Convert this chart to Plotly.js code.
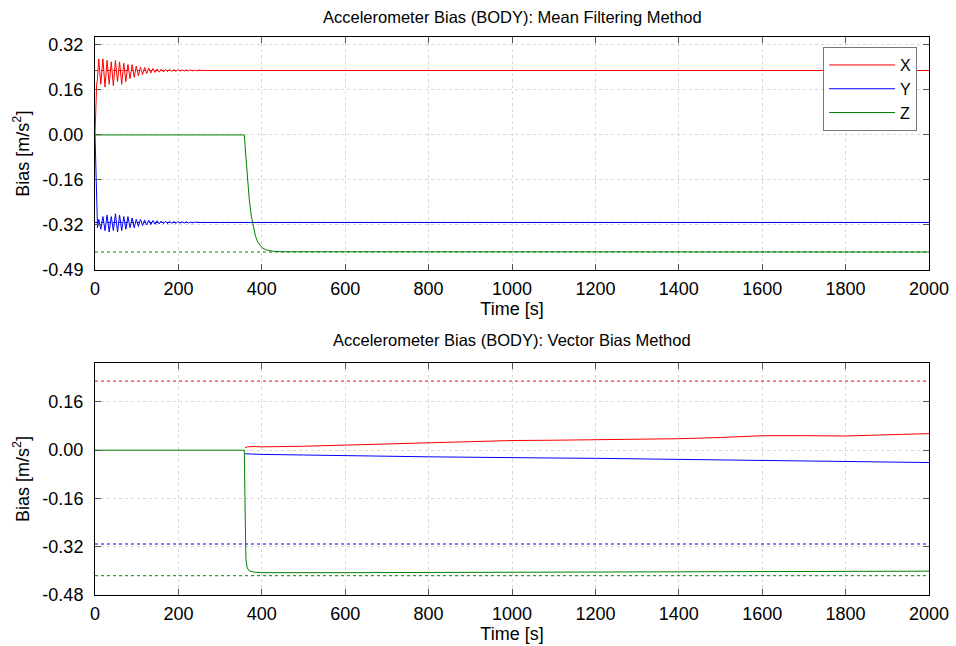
<!DOCTYPE html>
<html>
<head>
<meta charset="utf-8">
<script src="https://cdn.plot.ly/plotly-3.0.1.min.js"></script>
<style>html,body{margin:0;padding:0;background:#fff;}#chart{width:956px;height:646px;}</style>
</head>
<body>
<div id="chart"></div>
<script>
// ---- Top panel: Mean Filtering Method ----
const topXt = [0,2,4,6,9,14,19,24,29,34,39,44,49,54,59,64,69,74,79,84,89,94,99,104,109,114,119,124,129,134,139,144,149,154,159,164,169,174,179,184,189,194,199,204,209,214,219,224,229,234,239,244,249,260,300,2000];
const topXv = [0,0.10,0.18,0.20,0.27,0.18,0.27,0.17,0.265,0.18,0.26,0.175,0.265,0.19,0.26,0.18,0.255,0.19,0.25,0.20,0.25,0.205,0.245,0.21,0.24,0.215,0.24,0.218,0.238,0.22,0.236,0.222,0.234,0.223,0.234,0.224,0.233,0.225,0.233,0.226,0.232,0.226,0.232,0.227,0.231,0.227,0.231,0.228,0.231,0.228,0.230,0.228,0.230,0.229,0.229,0.229];

const topYt = [0,2,4,6,9,14,19,24,29,34,39,44,49,54,59,64,69,74,79,84,89,94,99,104,109,114,119,124,129,134,139,144,149,154,159,164,169,174,179,184,189,194,199,204,209,214,219,224,229,234,239,249,300,2000];
const topYv = [0,-0.15,-0.28,-0.33,-0.30,-0.335,-0.29,-0.34,-0.285,-0.345,-0.29,-0.34,-0.28,-0.345,-0.285,-0.34,-0.29,-0.335,-0.29,-0.33,-0.295,-0.33,-0.30,-0.325,-0.30,-0.322,-0.302,-0.32,-0.303,-0.318,-0.304,-0.317,-0.305,-0.316,-0.306,-0.315,-0.307,-0.315,-0.307,-0.314,-0.308,-0.314,-0.308,-0.313,-0.309,-0.313,-0.309,-0.313,-0.310,-0.312,-0.310,-0.311,-0.311,-0.311];

const topZt = [0,358,362,366,370,375,380,385,390,400,410,425,450,2000];
const topZv = [0,0,-0.08,-0.16,-0.23,-0.29,-0.33,-0.36,-0.38,-0.40,-0.408,-0.413,-0.415,-0.416];

// ---- Bottom panel: Vector Bias Method ----
const botXt = [360,365,380,400,500,600,700,800,900,1000,1100,1200,1300,1400,1500,1600,1700,1800,1900,2000];
const botXv = [0.008,0.011,0.012,0.011,0.013,0.017,0.020,0.024,0.027,0.032,0.033,0.034,0.036,0.038,0.042,0.048,0.048,0.047,0.051,0.055];
const botYt = [360,400,500,600,700,800,900,1000,1100,1200,1300,1400,1500,1600,1700,1800,1900,2000];
const botYv = [-0.012,-0.014,-0.016,-0.019,-0.020,-0.022,-0.024,-0.026,-0.026,-0.027,-0.029,-0.031,-0.033,-0.034,-0.036,-0.038,-0.040,-0.041];
const botZt = [0,358,360,362,365,370,380,400,600,1000,1400,1800,2000];
const botZv = [0,0,-0.20,-0.36,-0.39,-0.40,-0.404,-0.406,-0.406,-0.405,-0.404,-0.402,-0.401];

// reference (true) bias values, drawn dotted
const refT = [0,2000];
const refX = 0.229, refY = -0.311, refZ = -0.416;

const seriesNames = ['X','Y','Z'];
const colors = ['#ff0000','#0000ff','#008000'];

// axis ticks
const xTicks = [0,200,400,600,800,1000,1200,1400,1600,1800,2000];
const topYTickVals = [0.32,0.16,0,-0.16,-0.32,-0.48];
const topYTickText = ['0.32','0.16','0.00','-0.16','-0.32','-0.49'];
const botYTickVals = [0.16,0,-0.16,-0.32,-0.48];
const botYTickText = ['0.16','0.00','-0.16','-0.32','-0.48'];

const FONT = 'Liberation Sans, Arial, sans-serif';

function line(x,y,c,xa,ya,name,show,dash){
  return {x:x,y:y,type:'scatter',mode:'lines',xaxis:xa,yaxis:ya,name:name,showlegend:show,
    line:{color:c,width:1,dash:dash||'solid'},hoverinfo:'skip'};
}
const traces = [
  line(refT,[refX,refX],colors[0],'x','y','',false,'dot'),
  line(refT,[refY,refY],colors[1],'x','y','',false,'dot'),
  line(refT,[refZ,refZ],colors[2],'x','y','',false,'dot'),
  line(topXt,topXv,colors[0],'x','y',seriesNames[0],true),
  line(topYt,topYv,colors[1],'x','y',seriesNames[1],true),
  line(topZt,topZv,colors[2],'x','y',seriesNames[2],true),
  line(refT,[refX,refX],colors[0],'x2','y2','',false,'dot'),
  line(refT,[refY,refY],colors[1],'x2','y2','',false,'dot'),
  line(refT,[refZ,refZ],colors[2],'x2','y2','',false,'dot'),
  line(botXt,botXv,colors[0],'x2','y2','',false),
  line(botYt,botYv,colors[1],'x2','y2','',false),
  line(botZt,botZv,colors[2],'x2','y2','',false)
];

function xaxis(domainAnchor){
  return {anchor:domainAnchor,range:[0,2000],tickvals:xTicks,ticks:'inside',ticklen:6,tickcolor:'#555',
    showline:true,linecolor:'#000',linewidth:1,mirror:'ticks',showgrid:true,gridcolor:'#d8d8d8',griddash:'dot',
    zeroline:false,tickfont:{size:18,color:'#000',family:FONT},ticklabelstandoff:2,
    title:{text:'Time [s]',font:{size:18,color:'#000',family:FONT},standoff:2}};
}
function yaxis(anchor,dom,range,vals,text){
  return {anchor:anchor,domain:dom,range:range,tickvals:vals,ticktext:text,ticks:'inside',ticklen:6,tickcolor:'#555',
    showline:true,linecolor:'#000',linewidth:1,mirror:'ticks',showgrid:true,gridcolor:'#d8d8d8',griddash:'dot',
    zeroline:false,tickfont:{size:18,color:'#000',family:FONT},ticklabelstandoff:7};
}

const yTitle = 'Bias [m/s<sup>2</sup>]';

const layout = {
  width:956,height:646,
  margin:{l:95,r:27,t:37,b:51},
  paper_bgcolor:'#fff',plot_bgcolor:'#fff',
  font:{family:FONT,size:18,color:'#000'},
  xaxis:Object.assign(xaxis('y'),{domain:[0,1]}),
  yaxis:yaxis('x',[0.5824,1],[-0.48,0.348],topYTickVals,topYTickText),
  xaxis2:Object.assign(xaxis('y2'),{domain:[0,1]}),
  yaxis2:yaxis('x2',[0,0.4158],[-0.48,0.289],botYTickVals,botYTickText),
  showlegend:true,
  legend:{x:0.873,y:0.982,xanchor:'left',yanchor:'top',bgcolor:'#fff',bordercolor:'#777',borderwidth:1,
    font:{size:16,family:FONT,color:'#000'},itemwidth:66,tracegroupgap:0},
  annotations:[
    {text:'Accelerometer Bias (BODY): Mean Filtering Method',xref:'paper',yref:'paper',x:0.5,y:1,yshift:20,
     xanchor:'center',yanchor:'middle',showarrow:false,font:{size:16.5,family:FONT,color:'#000'}},
    {text:'Accelerometer Bias (BODY): Vector Bias Method',xref:'paper',yref:'paper',x:0.5,y:0.4158,yshift:23,
     xanchor:'center',yanchor:'middle',showarrow:false,font:{size:16.5,family:FONT,color:'#000'}},
    {text:yTitle,xref:'paper',yref:'paper',x:-0.0875,y:0.791,textangle:-90,
     xanchor:'center',yanchor:'middle',showarrow:false,font:{size:18,family:FONT,color:'#000'}},
    {text:yTitle,xref:'paper',yref:'paper',x:-0.0875,y:0.2079,textangle:-90,
     xanchor:'center',yanchor:'middle',showarrow:false,font:{size:18,family:FONT,color:'#000'}}
  ]
};

Plotly.newPlot('chart',traces,layout,{displayModeBar:false,staticPlot:true});
</script>
</body>
</html>
